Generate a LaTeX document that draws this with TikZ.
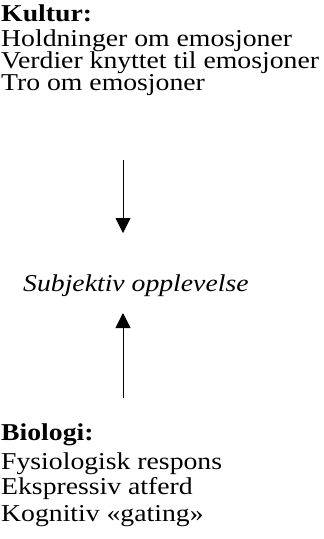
\documentclass[tikz,border=0pt]{standalone}
\usepackage{fontspec}
\setmainfont[FakeStretch=1.145]{Liberation Serif}
\usetikzlibrary{arrows.meta}
\begin{document}
\begin{tikzpicture}[x=1pt,y=-1pt,
  txt/.style={anchor=base west,inner sep=0pt,font=\fontsize{24.2}{27}\selectfont},
  arr/.style={line width=0.8pt,-{Triangle[length=15pt,width=15pt]}}]
\useasboundingbox (0,0) rectangle (324,539);
% culture block
\node[txt] (k0) at (1,21) {\textbf{Kultur:}};
\node[txt] (k1) at (1,46) {Holdninger om emosjoner};
\node[txt] (k2) at (1,68) {Verdier knyttet til emosjoner};
\node[txt] (k3) at (1,90) {Tro om emosjoner};
% subjective experience
\node[txt] (sub) at (23,291) {\textit{Subjektiv opplevelse}};
% biology block
\node[txt] (b0) at (1,440) {\textbf{Biologi:}};
\node[txt] (b1) at (1,469) {Fysiologisk respons};
\node[txt] (b2) at (1,494) {Ekspressiv atferd};
\node[txt] (b3) at (1,521) {Kognitiv «gating»};
% arrows from the two blocks towards the experience
\coordinate (d0) at (123,160);
\coordinate (d1) at (123,233);
\coordinate (u0) at (123,398);
\coordinate (u1) at (123,313);
\draw[arr] (d0) -- (d1);
\draw[arr] (u0) -- (u1);
\end{tikzpicture}
\end{document}
